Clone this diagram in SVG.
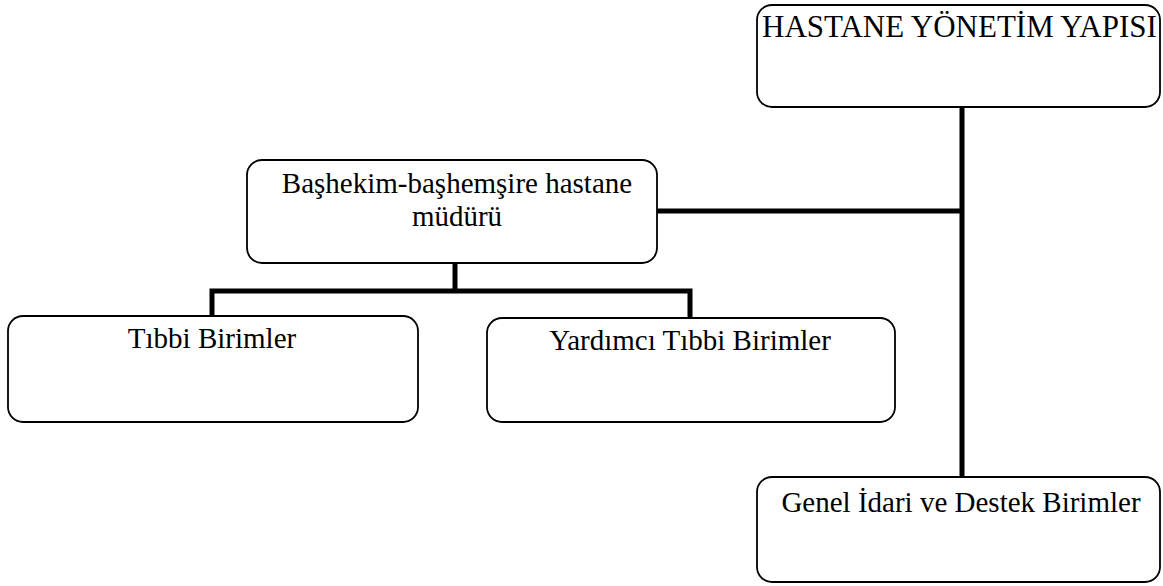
<svg xmlns="http://www.w3.org/2000/svg" width="1163" height="586" viewBox="0 0 1163 586">
<style>
.box{fill:#fff;stroke:#000;stroke-width:1.8}
.t{font-family:"Liberation Serif","Times New Roman",serif;font-size:29px;fill:#000}
.c{text-anchor:middle}
.con{fill:none;stroke:#000;stroke-width:5}
</style>
<rect width="1163" height="586" fill="#fff"/>
<g id="connectors">
<path class="con" d="M962,107 V477"/>
<path class="con" d="M657,211 H962"/>
<path class="con" d="M455,263 V291"/>
<path class="con" d="M212,317 V291 H690 V318"/>
</g>
<g id="n-hastane">
<rect class="box" x="757" y="5" width="403" height="102" rx="15"/>
<text class="t" x="762" y="37" style="font-size:31px">HASTANE YÖNETİM YAPISI</text>
</g>
<g id="n-bashekim">
<rect class="box" x="247" y="160" width="410" height="103" rx="15"/>
<text class="t c" x="457" y="193">Başhekim-başhemşire hastane</text>
<text class="t c" x="457" y="226">müdürü</text>
</g>
<g id="n-tibbi">
<rect class="box" x="8" y="316" width="410" height="106" rx="15"/>
<text class="t c" x="212" y="348">Tıbbi Birimler</text>
</g>
<g id="n-yardimci">
<rect class="box" x="487" y="318" width="408" height="104" rx="15"/>
<text class="t c" x="690" y="350">Yardımcı Tıbbi Birimler</text>
</g>
<g id="n-genel">
<rect class="box" x="757" y="477" width="403" height="105" rx="15"/>
<text class="t c" x="961" y="512">Genel İdari ve Destek Birimler</text>
</g>
</svg>
